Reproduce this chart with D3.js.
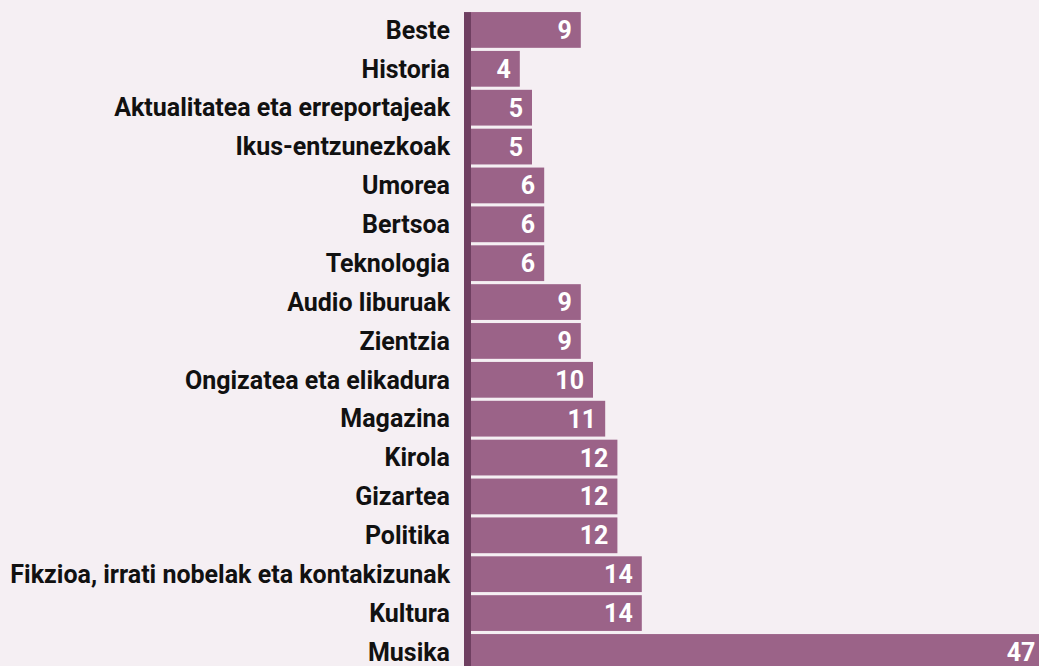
<!DOCTYPE html>
<html lang="eu">
<head>
<meta charset="UTF-8">
<title>Podcast gaiak</title>
<script src="https://cdn.jsdelivr.net/npm/d3@7"></script>
<style>
    html, body { margin: 0; padding: 0; background: #f5eff3; overflow: hidden; }
    .cat { font-family: Roboto, "Noto Sans", sans-serif; font-weight: 700; font-size: 25px; fill: #111111; }
    .val { font-family: Roboto, "Noto Sans", sans-serif; font-weight: 700; font-size: 25px; fill: #ffffff; }
</style>
</head>
<body>
<div id="chart"></div>
<script>
    var WIDTH = 1039;
    var HEIGHT = 666;

    var CATEGORIES = ["Beste", "Historia", "Aktualitatea eta erreportajeak", "Ikus-entzunezkoak",
        "Umorea", "Bertsoa", "Teknologia", "Audio liburuak", "Zientzia", "Ongizatea eta elikadura",
        "Magazina", "Kirola", "Gizartea", "Politika", "Fikzioa, irrati nobelak eta kontakizunak",
        "Kultura", "Musika"];
    var VALUES = [9, 4, 5, 5, 6, 6, 6, 9, 9, 10, 11, 12, 12, 12, 14, 14, 47];

    var BAR_COLOR = "#9b6388";
    var AXIS_COLOR = "#6f3f61";
    var AXIS_X = 464;
    var BAR_X = 471;

    var svg = d3.select("#chart").append("svg")
        .attr("width", WIDTH)
        .attr("height", HEIGHT);

    var y = d3.scaleBand()
        .domain(CATEGORIES)
        .range([10.5, 10.5 + 17 * 38.875])
        .paddingInner(0.08)
        .paddingOuter(0.04);

    var x = d3.scaleLinear()
        .domain([0, 47])
        .range([BAR_X, BAR_X + 47 * 12.2]);

    svg.selectAll("rect.bar")
        .data(VALUES)
        .enter().append("rect")
        .attr("class", "bar")
        .attr("x", x(0))
        .attr("y", function(d, i) { return y(CATEGORIES[i]); })
        .attr("width", function(d) { return x(d) - x(0); })
        .attr("height", y.bandwidth())
        .style("fill", BAR_COLOR);

    // dark strip on the left of the bars
    svg.append("rect")
        .attr("x", AXIS_X)
        .attr("y", y(CATEGORIES[0]))
        .attr("width", BAR_X - AXIS_X)
        .attr("height", HEIGHT)
        .style("fill", AXIS_COLOR);

    svg.selectAll("text.cat")
        .data(CATEGORIES)
        .enter().append("text")
        .attr("class", "cat")
        .attr("x", 450)
        .attr("y", function(d) { return y(d) + y.bandwidth() / 2; })
        .attr("dy", "0.35em")
        .attr("text-anchor", "end")
        .text(function(d) { return d; });

    svg.selectAll("text.val")
        .data(VALUES)
        .enter().append("text")
        .attr("class", "val")
        .attr("x", function(d) { return x(d) - 9; })
        .attr("y", function(d, i) { return y(CATEGORIES[i]) + y.bandwidth() / 2; })
        .attr("dy", "0.36em")
        .attr("text-anchor", "end")
        .text(function(d) { return d; });
</script>
</body>
</html>
